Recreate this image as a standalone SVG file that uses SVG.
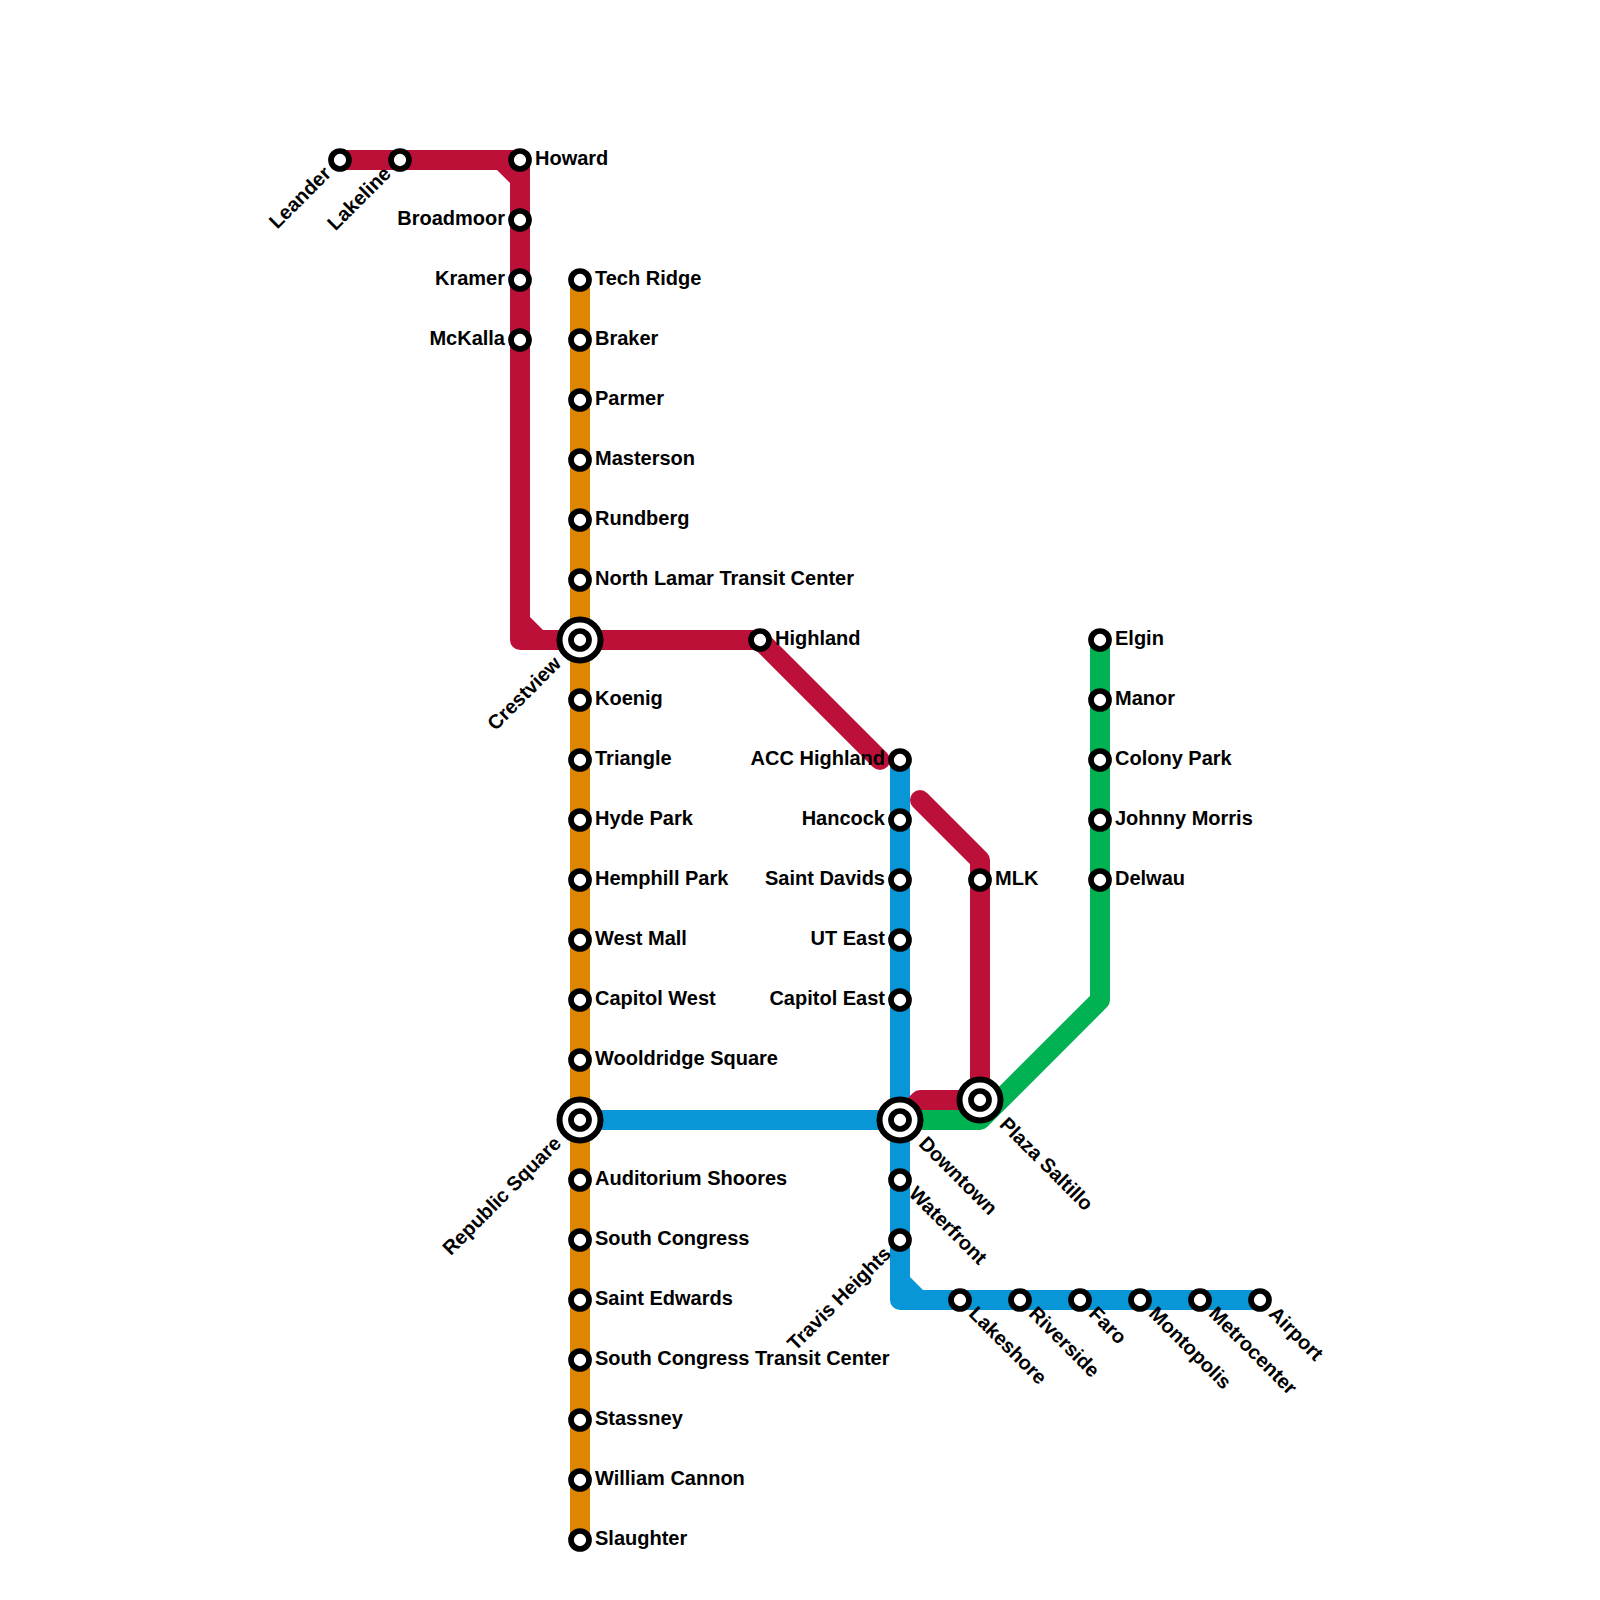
<svg xmlns="http://www.w3.org/2000/svg" width="1600" height="1600" viewBox="0 0 1600 1600">
<style>
.ln{fill:none;stroke-width:20;stroke-linecap:round;stroke-linejoin:round}
.red{stroke:#bd1038}.org{stroke:#df8600}.blu{stroke:#0896d7}.grn{stroke:#00b251}
.fr{fill:#bd1038}.fb{fill:#0896d7}
.st{fill:#fff;stroke:#000;stroke-width:5.7}
.ring{fill:#fff;stroke:#000;stroke-width:6}
text{font-family:"Liberation Sans",Arial,sans-serif;font-weight:700;font-size:20px;fill:#000}
.e{text-anchor:end}
</style>
<defs>
<g id="s"><circle class="st" r="9"/></g>
<g id="x"><circle class="ring" r="20.5"/><circle class="st" r="9"/></g>
</defs>
<rect width="1600" height="1600" fill="#fff"/>
<g id="connectors">
<path class="ln org" d="M580,280V1540"/>
<path class="ln blu" d="M580,1120H900M900,760V1300H1260"/>
<path class="fb" d="M910,1277L923,1290H910Z"/>
<path class="ln red" d="M340,160H520V640H760L880,760M920,800L980,860V1100H920L900,1120"/>
<path class="fr" d="M497,170L510,183V170Z"/>
<path class="fr" d="M530,617L543,630H530Z"/>
<path class="ln grn" d="M1100,640V1000L980,1120H900"/>
</g>
<g id="stn-leander" transform="translate(340,160)"><use href="#s"/><text class="e" transform="rotate(-45)" x="-16" y="5">Leander</text></g>
<g id="stn-lakeline" transform="translate(400,160)"><use href="#s"/><text class="e" transform="rotate(-45)" x="-16" y="5">Lakeline</text></g>
<g id="stn-howard" transform="translate(520,160)"><use href="#s"/><text x="15" y="5">Howard</text></g>
<g id="stn-broadmoor" transform="translate(520,220)"><use href="#s"/><text class="e" x="-15" y="5">Broadmoor</text></g>
<g id="stn-kramer" transform="translate(520,280)"><use href="#s"/><text class="e" x="-15" y="5">Kramer</text></g>
<g id="stn-mckalla" transform="translate(520,340)"><use href="#s"/><text class="e" x="-15" y="5">McKalla</text></g>
<g id="stn-techridge" transform="translate(580,280)"><use href="#s"/><text x="15" y="5">Tech Ridge</text></g>
<g id="stn-braker" transform="translate(580,340)"><use href="#s"/><text x="15" y="5">Braker</text></g>
<g id="stn-parmer" transform="translate(580,400)"><use href="#s"/><text x="15" y="5">Parmer</text></g>
<g id="stn-masterson" transform="translate(580,460)"><use href="#s"/><text x="15" y="5">Masterson</text></g>
<g id="stn-rundberg" transform="translate(580,520)"><use href="#s"/><text x="15" y="5">Rundberg</text></g>
<g id="stn-northlamar" transform="translate(580,580)"><use href="#s"/><text x="15" y="5">North Lamar Transit Center</text></g>
<g id="stn-crestview" transform="translate(580,640)"><use href="#x"/><text class="e" transform="rotate(-45)" x="-30" y="5">Crestview</text></g>
<g id="stn-koenig" transform="translate(580,700)"><use href="#s"/><text x="15" y="5">Koenig</text></g>
<g id="stn-triangle" transform="translate(580,760)"><use href="#s"/><text x="15" y="5">Triangle</text></g>
<g id="stn-hydepark" transform="translate(580,820)"><use href="#s"/><text x="15" y="5">Hyde Park</text></g>
<g id="stn-hemphill" transform="translate(580,880)"><use href="#s"/><text x="15" y="5">Hemphill Park</text></g>
<g id="stn-westmall" transform="translate(580,940)"><use href="#s"/><text x="15" y="5">West Mall</text></g>
<g id="stn-capitolwest" transform="translate(580,1000)"><use href="#s"/><text x="15" y="5">Capitol West</text></g>
<g id="stn-wooldridge" transform="translate(580,1060)"><use href="#s"/><text x="15" y="5">Wooldridge Square</text></g>
<g id="stn-republic" transform="translate(580,1120)"><use href="#x"/><text class="e" transform="rotate(-45)" x="-30" y="5">Republic Square</text></g>
<g id="stn-auditorium" transform="translate(580,1180)"><use href="#s"/><text x="15" y="5">Auditorium Shoores</text></g>
<g id="stn-southcongress" transform="translate(580,1240)"><use href="#s"/><text x="15" y="5">South Congress</text></g>
<g id="stn-saintedwards" transform="translate(580,1300)"><use href="#s"/><text x="15" y="5">Saint Edwards</text></g>
<g id="stn-sctc" transform="translate(580,1360)"><use href="#s"/><text x="15" y="5">South Congress Transit Center</text></g>
<g id="stn-stassney" transform="translate(580,1420)"><use href="#s"/><text x="15" y="5">Stassney</text></g>
<g id="stn-williamcannon" transform="translate(580,1480)"><use href="#s"/><text x="15" y="5">William Cannon</text></g>
<g id="stn-slaughter" transform="translate(580,1540)"><use href="#s"/><text x="15" y="5">Slaughter</text></g>
<g id="stn-highland" transform="translate(760,640)"><use href="#s"/><text x="15" y="5">Highland</text></g>
<g id="stn-acc" transform="translate(900,760)"><use href="#s"/><text class="e" x="-15" y="5">ACC Highland</text></g>
<g id="stn-hancock" transform="translate(900,820)"><use href="#s"/><text class="e" x="-15" y="5">Hancock</text></g>
<g id="stn-saintdavids" transform="translate(900,880)"><use href="#s"/><text class="e" x="-15" y="5">Saint Davids</text></g>
<g id="stn-uteast" transform="translate(900,940)"><use href="#s"/><text class="e" x="-15" y="5">UT East</text></g>
<g id="stn-capitoleast" transform="translate(900,1000)"><use href="#s"/><text class="e" x="-15" y="5">Capitol East</text></g>
<g id="stn-downtown" transform="translate(900,1120)"><use href="#x"/><text transform="rotate(45)" x="30" y="5">Downtown</text></g>
<g id="stn-waterfront" transform="translate(900,1180)"><use href="#s"/><text transform="rotate(45)" x="16" y="5">Waterfront</text></g>
<g id="stn-travis" transform="translate(900,1240)"><use href="#s"/><text class="e" transform="rotate(-45)" x="-16" y="5">Travis Heights</text></g>
<g id="stn-lakeshore" transform="translate(960,1300)"><use href="#s"/><text transform="rotate(45)" x="16" y="5">Lakeshore</text></g>
<g id="stn-riverside" transform="translate(1020,1300)"><use href="#s"/><text transform="rotate(45)" x="16" y="5">Riverside</text></g>
<g id="stn-faro" transform="translate(1080,1300)"><use href="#s"/><text transform="rotate(45)" x="16" y="5">Faro</text></g>
<g id="stn-montopolis" transform="translate(1140,1300)"><use href="#s"/><text transform="rotate(45)" x="16" y="5">Montopolis</text></g>
<g id="stn-metrocenter" transform="translate(1200,1300)"><use href="#s"/><text transform="rotate(45)" x="16" y="5">Metrocenter</text></g>
<g id="stn-airport" transform="translate(1260,1300)"><use href="#s"/><text transform="rotate(45)" x="16" y="5">Airport</text></g>
<g id="stn-mlk" transform="translate(980,880)"><use href="#s"/><text x="15" y="5">MLK</text></g>
<g id="stn-plaza" transform="translate(980,1100)"><use href="#x"/><text transform="rotate(45)" x="31" y="5">Plaza Saltillo</text></g>
<g id="stn-elgin" transform="translate(1100,640)"><use href="#s"/><text x="15" y="5">Elgin</text></g>
<g id="stn-manor" transform="translate(1100,700)"><use href="#s"/><text x="15" y="5">Manor</text></g>
<g id="stn-colonypark" transform="translate(1100,760)"><use href="#s"/><text x="15" y="5">Colony Park</text></g>
<g id="stn-johnnymorris" transform="translate(1100,820)"><use href="#s"/><text x="15" y="5">Johnny Morris</text></g>
<g id="stn-delwau" transform="translate(1100,880)"><use href="#s"/><text x="15" y="5">Delwau</text></g>
</svg>
